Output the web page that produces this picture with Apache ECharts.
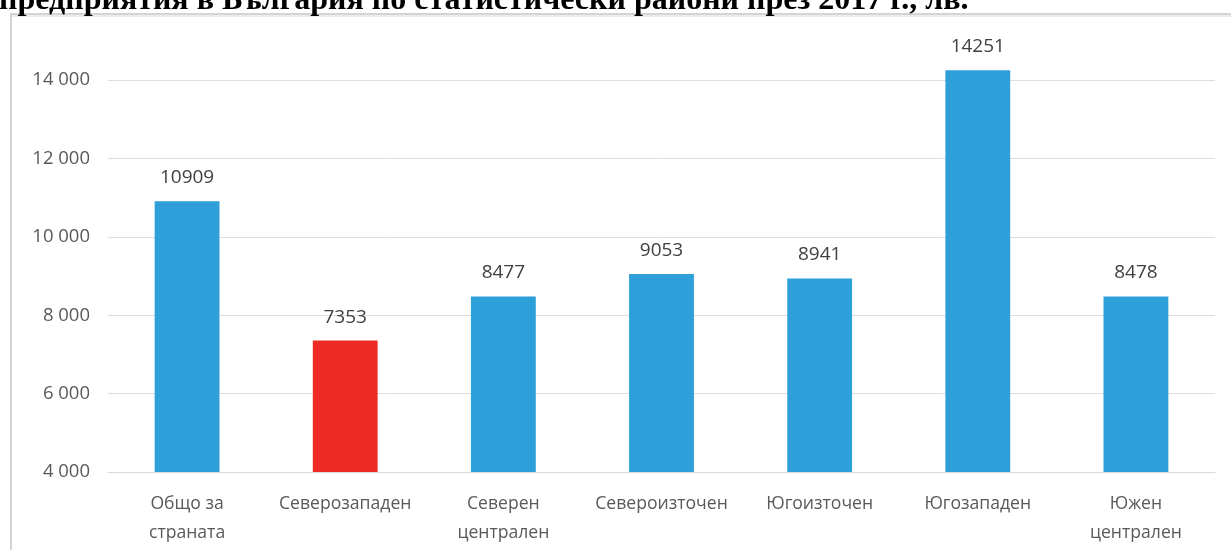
<!DOCTYPE html>
<html>
<head>
<meta charset="utf-8">
<script src="https://cdn.jsdelivr.net/npm/echarts@6/dist/echarts.min.js"></script>
<style>
html,body{margin:0;padding:0;background:#fff;}
#chart{width:1231px;height:550px;}
</style>
</head>
<body>
<div id="chart"></div>
<script>
const titleText = 'предприятия в България по статистически райони през 2017 г., лв.';
const categories = ['Общо за\nстраната', 'Северозападен', 'Северен\nцентрален', 'Североизточен', 'Югоизточен', 'Югозападен', 'Южен\nцентрален'];
const values = [10909, 7353, 8477, 9053, 8941, 14251, 8478];
const barColors = ['#2E9FD8', '#EC2B24', '#2E9FD8', '#2E9FD8', '#2E9FD8', '#2E9FD8', '#2E9FD8'];
const yMin = 4000, yMax = 15000, yStep = 2000;

const chart = echarts.init(document.getElementById('chart'), null, {renderer: 'canvas'});
chart.setOption({
  animation: false,
  backgroundColor: '#fff',
  title: {
    text: titleText,
    left: -1, top: -15,
    padding: 0,
    textStyle: {fontFamily: '"Liberation Serif","Times New Roman",serif', fontWeight: 'bold', fontSize: 32, color: '#000'}
  },
  graphic: [{
    type: 'polyline', silent: true,
    shape: {points: [[11, 560], [11, 14], [1240, 14]]},
    style: {stroke: '#d4d4d4', lineWidth: 2, fill: null}
  }, {
    type: 'line', silent: true,
    shape: {x1: 12, y1: 16, x2: 1240, y2: 16},
    style: {stroke: '#ececec', lineWidth: 2}
  }],
  grid: {left: 108, right: 16, top: 41, bottom: 78},
  xAxis: {
    type: 'category', data: categories,
    axisLine: {lineStyle: {color: '#d9d9d9', width: 1}},
    axisTick: {show: false},
    axisLabel: {color: '#595959', fontFamily: '"Open Sans","Noto Sans",sans-serif', fontSize: 17.6, lineHeight: 29, margin: 17, interval: 0}
  },
  yAxis: {
    type: 'value', min: yMin, max: yMax, interval: yStep,
    axisLine: {show: false}, axisTick: {show: false},
    splitLine: {showMaxLine: false, lineStyle: {color: '#dedede'}},
    axisLabel: {
      showMaxLabel: false,
      color: '#595959', fontFamily: '"Open Sans","Noto Sans",sans-serif', fontSize: 18.5, margin: 18,
      formatter: v => v.toLocaleString('en-US').replace(/,/g, ' ')
    }
  },
  series: [{
    type: 'bar',
    data: values.map((v, i) => ({value: v, itemStyle: {color: barColors[i]}})),
    barWidth: '41%',
    label: {show: true, position: 'top', distance: 14, color: '#404040', fontFamily: '"Open Sans","Noto Sans",sans-serif', fontSize: 19}
  }]
});
</script>
</body>
</html>
